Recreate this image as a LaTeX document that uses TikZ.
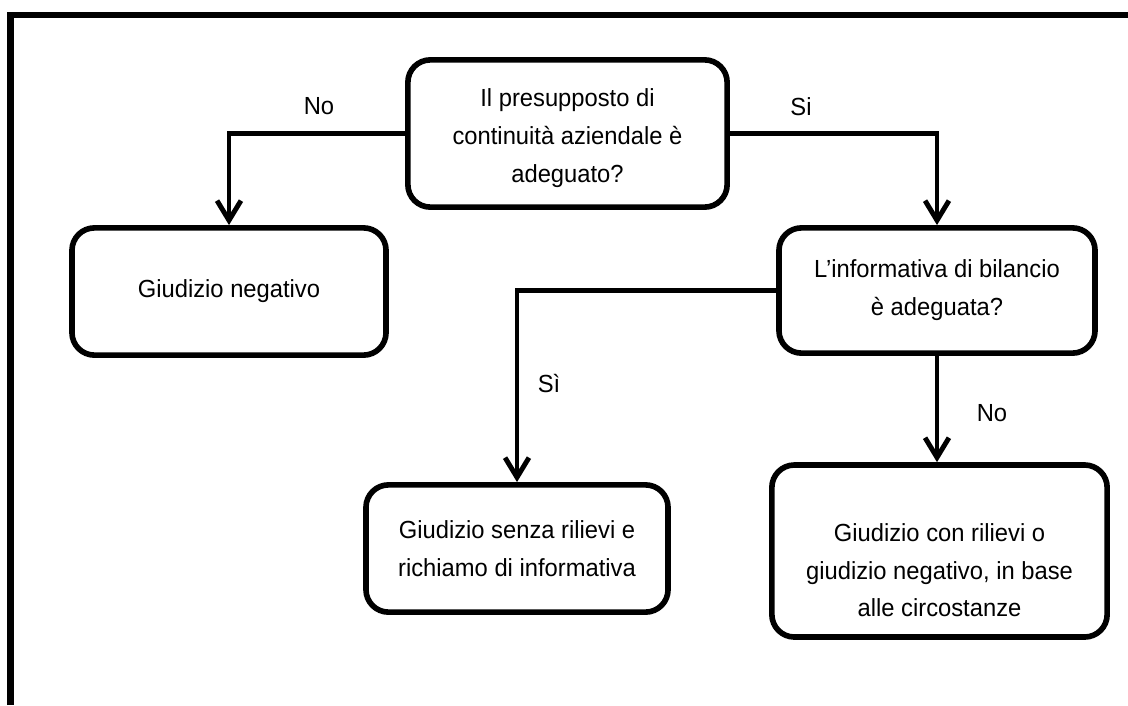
\documentclass[tikz,border=0pt]{standalone}
\usepackage{fontspec}
\setmainfont{Liberation Sans}[FakeStretch=0.96]
\usetikzlibrary{arrows.meta}
\newcommand{\txt}{\fontsize{17.6}{27}\selectfont}
\newcommand{\topgap}[1]{\rule{0pt}{#1}}

\begin{document}
\begin{tikzpicture}[x=0.025cm, y=-0.025cm,
    box/.style={draw, line width=4pt, rounded corners=16pt, align=center, font=\txt, inner sep=0pt},
    link/.style={line width=3.5pt, -{Straight Barb[length=14pt,width=17pt]}},
    lbl/.style={font=\txt, inner sep=0pt}]

  % Fix the page size
  \useasboundingbox (0,0) rectangle (1128,705);

  % Draw the frame (left and top only)
  \draw[line width=4.3pt] (10.5,705) -- (10.5,15) -- (1128,15);

  % Boxes
  \node[box, minimum width=7.98cm, minimum height=3.68cm] (qgc) at (567.5,133.5)
    {\topgap{19pt}Il presupposto di\\continuità aziendale è\\adeguato?};
  \node[box, minimum width=7.85cm, minimum height=3.18cm] (neg) at (229,291.5)
    {Giudizio negativo};
  \node[box, minimum width=7.9cm, minimum height=3.13cm] (qinf) at (937,290.5)
    {L’informativa di bilancio\\è adeguata?};
  \node[box, minimum width=7.55cm, minimum height=3.18cm] (senza) at (517,548.5)
    {Giudizio senza rilievi e\\richiamo di informativa};
  \node[box, minimum width=8.38cm, minimum height=4.3cm] (rilievi) at (939.5,551)
    {\topgap{40pt}Giudizio con rilievi o\\giudizio negativo, in base\\alle circostanze};

  % Connectors
  \draw[link] (qgc.west) -| (neg.north);
  \draw[link] (qgc.east) -| (qinf.north);
  \draw[link] (qinf.west) -| (senza.north);
  \draw[link] (qinf.south) -- (qinf.south |- rilievi.north);

  % Labels
  \node[lbl] (no1) at (319,106) {No};
  \node[lbl] (si1) at (801,107) {Si};
  \node[lbl] (si2) at (549,383) {Sì};
  \node[lbl] (no2) at (992,413) {No};

\end{tikzpicture}
\end{document}
